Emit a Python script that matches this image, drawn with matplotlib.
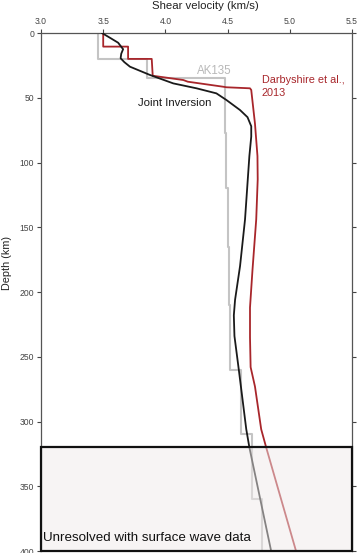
import numpy as np
import matplotlib.pyplot as plt
from matplotlib.patches import Rectangle

plt.rcParams['font.family'] = ['Liberation Sans', 'DejaVu Sans']

# Joint inversion model (velocity km/s, depth km)
joint_vs = [3.49, 3.56, 3.62, 3.66, 3.645, 3.64, 3.67, 3.715, 3.876, 4.063, 4.25,
            4.41, 4.49, 4.60, 4.66, 4.69, 4.69, 4.675, 4.64, 4.60,
            4.56, 4.55, 4.555, 4.59, 4.65, 4.675, 4.85]
joint_z = [0, 4, 7.5, 12.5, 16, 19.5, 22.5, 26, 32.4, 38.9, 42.7,
           46.6, 51.7, 59.5, 65, 72, 80, 95, 144, 180,
           206, 218, 234, 260, 306, 320, 400]

# Darbyshire et al., 2013
darb_vs = [3.50, 3.50, 3.70, 3.70, 3.89, 3.898, 4.144, 4.18, 4.466, 4.49, 4.68,
           4.69, 4.72, 4.74, 4.742, 4.73, 4.70, 4.68, 4.68, 4.685, 4.72, 4.77,
           4.81, 5.05]
darb_z = [0, 10.5, 10.5, 20, 20, 33, 36.3, 37.6, 41.5, 41.9, 42.7,
          44, 70, 95, 113, 144, 183, 212, 235, 258, 273, 306,
          320, 400]

# AK135 layers
ak_top = [0, 20, 35, 77.5, 120, 165, 210, 260, 310, 360]
ak_bot = [20, 35, 77.5, 120, 165, 210, 260, 310, 360, 400]
ak_vs = [3.46, 3.85, 4.48, 4.49, 4.50, 4.51, 4.52, 4.61, 4.70, 4.78]

unresolved_top = 320

fig = plt.figure(figsize=(3.6, 5.53), dpi=100)
ax = fig.add_axes([0.1139, 0.0036, 0.8639, 0.9367])

# AK135 as steps
ak_x = np.repeat(ak_vs, 2)
ak_y = np.column_stack([ak_top, ak_bot]).ravel()
ax.plot(ak_x, ak_y, color='#c4c4c4', lw=1.5, zorder=2)
ax.plot(darb_vs, darb_z, color='#a8262b', lw=1.3, zorder=3)
ax.plot(joint_vs, joint_z, color='#1a1a1a', lw=1.3, zorder=4)

# unresolved box
ax.add_patch(Rectangle((3.0, unresolved_top), 2.5, 400 - unresolved_top,
                       facecolor=(0.94, 0.92, 0.92, 0.5), edgecolor='none', zorder=5))
ax.add_patch(Rectangle((3.0, unresolved_top), 2.5, 400 - unresolved_top,
                       facecolor='none', edgecolor='#111111', lw=1.6, zorder=6, clip_on=False))

ax.text(4.39, 29, 'AK135', color='#b8b8b8', fontsize=8.3, ha='center', va='center')
ax.text(4.774, 41.5, 'Darbyshire et al.,\n2013', color='#a8262b', fontsize=7.8,
        ha='left', va='center', linespacing=1.4)
ax.text(4.073, 54, 'Joint Inversion', color='#1a1a1a', fontsize=8.2, ha='center', va='center')
ax.text(3.02, 390, 'Unresolved with surface wave data', color='#111111', fontsize=9.6,
        ha='left', va='center', zorder=7)

ax.set_xlim(3.0, 5.5)
ax.set_ylim(400, 0)
ax.set_xticks(np.arange(3.0, 5.51, 0.5))
ax.set_yticks(np.arange(0, 401, 50))
ax.xaxis.tick_top()
ax.xaxis.set_label_position('top')
ax.tick_params(axis='x', top=True, bottom=False, labelsize=6.2, colors='#444444',
               length=3, width=0.8, pad=2)
ax.tick_params(axis='y', left=True, right=True, labelsize=6.2, colors='#444444',
               length=3, width=0.8, pad=2)
for s in ax.spines.values():
    s.set_color('#555555')
    s.set_linewidth(0.9)
ax.spines['bottom'].set_visible(False)

ax.set_xlabel('Shear velocity (km/s)', fontsize=8.2, color='#222222', va='center')
ax.xaxis.set_label_coords(0.527, 1.052)
ax.set_ylabel('Depth (km)', fontsize=7.8, color='#222222')
ax.yaxis.set_label_coords(-0.093, 0.556)

fig.savefig('out.png', dpi=100)
